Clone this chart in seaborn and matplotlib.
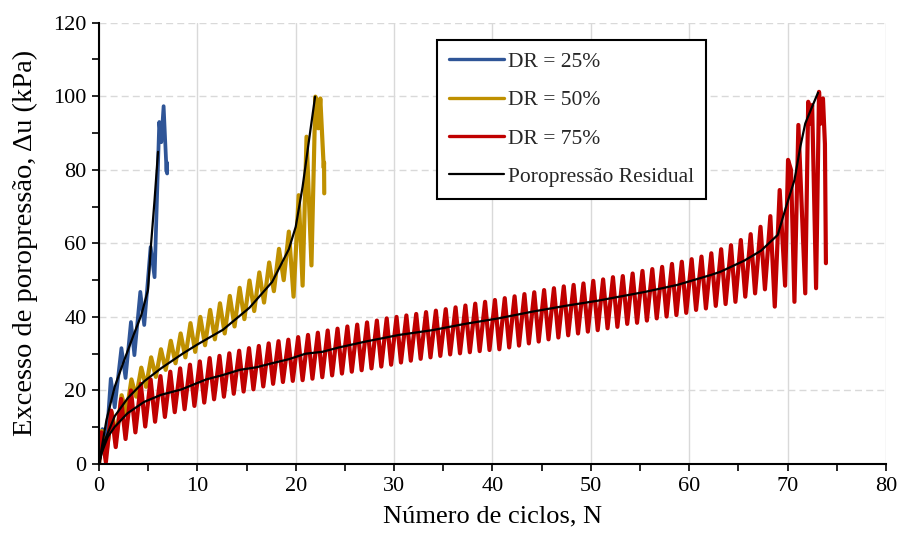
import numpy as np
import pandas as pd
import matplotlib
matplotlib.use("Agg")
import matplotlib.pyplot as plt
import seaborn as sns
from matplotlib.lines import Line2D

# ---------------- DATA ----------------
# DR = 25 % : successive extrema of the pore-pressure record
n_25 = [0, 0.35, 0.75, 1.2, 1.6, 2.28, 2.7, 3.25, 3.6, 4.2, 4.6, 5.25, 5.65,
        6.13, 6.33, 6.57, 6.87, 6.9, 6.93]
u_25 = [0, 9.5, 5.5, 23.2, 15.4, 31.5, 23.4, 38.6, 29.6, 46.8, 37.8, 59.0, 50.8,
        93.0, 87.5, 97.3, 79.5, 82.0, 79.0]

# DR = 50 % : peak / trough per loading cycle, then failure stage
ciclos_50 = list(range(20))
pico_50 = [9.0, 14.0, 18.7, 23.0, 26.2, 29.0, 31.2, 33.5, 35.5, 38.3,
           40.0, 41.9, 43.7, 45.7, 47.9, 49.9, 52.1, 54.8, 58.5, 63.2]
vale_50 = [3.5, 7.5, 13.8, 18.3, 21.0, 23.7, 25.6, 27.4, 29.0, 30.5,
           32.3, 33.9, 35.5, 37.4, 39.4, 41.6, 43.9, 47.0, 50.0, 45.5]
n_50_rup = [20.3, 20.7, 21.1, 21.6, 22.0, 22.3, 22.5, 22.85, 22.88, 22.9]
u_50_rup = [73.1, 48.5, 89.0, 54.0, 99.9, 91.3, 99.4, 80.5, 82.0, 73.6]

# DR = 75 % : peak / trough per loading cycle, then failure stage
ciclos_75 = list(range(68))
pico_75 = [8.6, 14.5, 17.7, 20.0, 21.8, 23.0, 23.9, 25.1, 26.0, 27.0,
           27.9, 28.8, 29.4, 30.1, 30.8, 31.5, 32.1, 32.8, 33.4, 33.8,
           34.5, 35.1, 35.7, 36.3, 36.8, 37.4, 37.9, 38.5, 39.0, 39.6,
           40.0, 40.4, 40.8, 41.3, 41.7, 42.1, 42.6, 43.1, 43.6, 44.1,
           44.6, 45.1, 45.6, 46.2, 46.7, 47.3, 47.8, 48.3, 48.7, 49.1,
           49.8, 50.2, 50.8, 51.1, 51.8, 52.5, 53.0, 53.6, 54.4, 55.0,
           55.7, 56.4, 57.3, 58.4, 59.5, 60.9, 62.5, 64.5]
vale_75 = [0.5, 4.6, 6.8, 8.6, 10.2, 11.5, 12.8, 14.1, 14.9, 15.8,
           16.7, 17.6, 18.3, 19.1, 19.7, 20.3, 21.1, 21.8, 22.3, 22.6,
           22.8, 23.2, 23.6, 24.1, 24.6, 25.1, 25.5, 26.0, 26.5, 27.0,
           27.6, 28.1, 28.6, 29.0, 29.4, 29.8, 30.1, 30.4, 30.7, 31.0,
           31.2, 31.7, 32.2, 32.8, 33.3, 33.9, 34.4, 35.0, 35.5, 36.0,
           36.4, 36.9, 37.3, 38.1, 38.4, 39.0, 39.6, 40.1, 40.5, 41.1,
           41.9, 42.3, 43.0, 43.5, 44.1, 45.5, 46.4, 47.5]
n_75_rup = [68.25, 68.7, 69.2, 69.75, 70.05, 70.35, 70.7, 71.1, 71.8, 72.1,
            72.3, 72.5, 72.9, 73.2, 73.4, 73.6, 73.8, 73.9]
u_75_rup = [67.4, 42.8, 74.5, 48.5, 82.7, 80.0, 44.1, 92.2, 46.4, 98.5,
            92.6, 97.6, 47.8, 101.2, 92.6, 99.4, 87.0, 54.6]

# Residual pore pressure (black curves)
n_res_25 = [0, 0.76, 1.6, 2.45, 3.45, 4.3, 4.98, 5.3, 5.65, 6.0]
u_res_25 = [0, 12.0, 21.0, 27.4, 34.6, 40.5, 47.3, 60.0, 71.8, 84.9]
n_res_50 = [0, 0.6, 1.6, 2.95, 4.6, 6.3, 8.5, 10.0, 12.6, 15.3, 17.6, 19.3,
            20.0, 20.7, 21.4, 21.97]
u_res_50 = [0, 6.5, 13.0, 18.0, 22.5, 26.0, 30.0, 32.5, 36.5, 42.5, 49.5, 58.4,
            64.5, 75.4, 89.0, 99.9]
n_res_75 = [0, 0.25, 0.9, 1.6, 2.9, 4.6, 6.3, 8.4, 10.9, 12.6, 14.3, 16.0,
            17.6, 19.3, 21.0, 22.7, 24.4, 27.1, 30.5, 33.9, 37.2, 40.6, 44.0,
            47.4, 50.7, 55.5, 58.8, 62.2, 63.2, 65.6, 67.3, 69.0, 69.8, 70.7,
            71.3, 71.8, 72.35, 73.1]
u_res_75 = [0, 2.9, 7.4, 10.1, 13.8, 16.9, 18.8, 20.3, 23.0, 24.2, 25.6, 26.3,
            27.4, 28.5, 30.0, 30.5, 31.7, 33.3, 35.1, 36.4, 38.1, 39.6, 41.4,
            43.0, 44.4, 46.8, 48.7, 51.4, 52.3, 55.3, 58.0, 62.3, 69.5, 77.2,
            86.3, 92.6, 96.2, 101.0]

labels = ["DR = 25%", "DR = 50%", "DR = 75%", "Poropressão Residual"]
cores = ["#2F5597", "#BF9000", "#C00000", "#000000"]


def registro(ciclos, picos, vales, n_rup, u_rup, fase_p, fase_v):
    n = [0.0]
    u = [0.0]
    for c, p, v in zip(ciclos, picos, vales):
        n += [c + fase_p, c + fase_v]
        u += [p, v]
    return pd.DataFrame({"N": n + list(n_rup), "du": u + list(u_rup)})


df25 = pd.DataFrame({"N": n_25, "du": u_25})
df50 = registro(ciclos_50, pico_50, vale_50, n_50_rup, u_50_rup, 0.3, 0.78)
df75 = registro(ciclos_75, pico_75, vale_75, n_75_rup, u_75_rup, 0.25, 0.7)

# ---------------- PLOT ----------------
sns.set_theme(style="ticks")
plt.rcParams['font.family'] = ['Liberation Serif', 'DejaVu Serif']

fig = plt.figure(figsize=(9.04, 5.42), dpi=100)
ax = fig.add_axes([0.1095, 0.1439, 0.8705, 0.8142])

kw = dict(sort=False, estimator=None, ax=ax, legend=False)
sns.lineplot(data=df25, x="N", y="du", color=cores[0], lw=2.7,
             solid_joinstyle="round", **kw)
sns.lineplot(data=df50, x="N", y="du", color=cores[1], lw=3.0,
             solid_joinstyle="round", **kw)
sns.lineplot(data=df75, x="N", y="du", color=cores[2], lw=3.0,
             solid_joinstyle="round", **kw)
for nn, uu in [(n_res_25, u_res_25), (n_res_50, u_res_50), (n_res_75, u_res_75)]:
    sns.lineplot(x=nn, y=uu, color=cores[3], lw=1.6, **kw)

ax.set_xlim(0, 80)
ax.set_ylim(0, 120)
ax.set_xticks(np.arange(0, 81, 10))
ax.set_yticks(np.arange(0, 121, 20))
ax.set_xticks(np.arange(0, 81, 5), minor=True)
ax.set_yticks(np.arange(0, 121, 10), minor=True)

ax.set_axisbelow(True)
ax.yaxis.grid(True, which="major", color="#d9d9d9", lw=1.0, linestyle=(0, (5, 3)))
ax.xaxis.grid(True, which="major", color="#d9d9d9", lw=1.0, linestyle="-")

for s in ["top", "right"]:
    ax.spines[s].set_visible(False)
for s in ["left", "bottom"]:
    ax.spines[s].set_color("black")
    ax.spines[s].set_linewidth(1.5)

ax.tick_params(axis="both", which="both", direction="out", color="black",
               width=1.2, labelsize=16, labelcolor="black")
ax.tick_params(which="major", length=5, pad=4)
ax.tick_params(which="minor", length=5)

ax.set_xlabel("Número de ciclos, N", fontsize=19, color="black", labelpad=7)
ax.set_ylabel("Excesso de poropressão, Δu (kPa)", fontsize=20.5, color="black",
              labelpad=11)

handles = [Line2D([0], [0], color=c, lw=2.4 if i < 3 else 1.6)
           for i, c in enumerate(cores)]
leg = ax.legend(handles, labels, loc="upper left",
                bbox_to_anchor=(0.4295, 0.961), fontsize=15.5,
                frameon=True, fancybox=False, handlelength=2.55,
                handletextpad=0.2, labelspacing=0.85, borderpad=0.55,
                borderaxespad=0)
leg.get_frame().set_edgecolor("black")
leg.get_frame().set_linewidth(1.5)
leg.get_frame().set_alpha(1)

fig.savefig("out.png", dpi=100)
